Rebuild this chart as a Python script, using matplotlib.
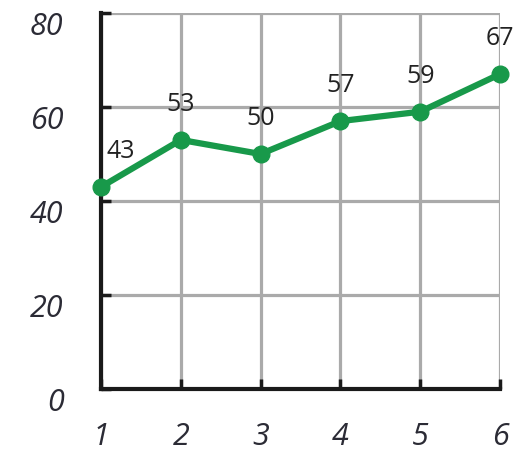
import matplotlib
matplotlib.use('Agg')
import matplotlib.pyplot as plt
import matplotlib.transforms as mtransforms

# Данные
x_vals = [1, 2, 3, 4, 5, 6]
y_vals = [43, 53, 50, 57, 59, 67]
y_ticks = [0, 20, 40, 60, 80]

fig = plt.figure(figsize=(5.27, 4.56), dpi=100)
ax = fig.add_axes([0.1917, 0.1447, 0.9488 - 0.1917, 0.9693 - 0.1447])

# Сетка
ax.set_xlim(1, 6)
ax.set_ylim(0, 80)
ax.set_xticks(x_vals)
ax.set_yticks(y_ticks)
ax.grid(True, color='#aaaaaa', linewidth=2.3, zorder=0)
ax.set_axisbelow(True)

# Оси: только левая и нижняя
for side in ['top', 'right']:
    ax.spines[side].set_visible(False)
for side in ['left', 'bottom']:
    ax.spines[side].set_linewidth(3)
    ax.spines[side].set_color('#1a1a1a')
    ax.spines[side].set_capstyle('projecting')

ax.tick_params(direction='in', length=7, width=2.5, color='#1a1a1a',
               labelsize=22, labelcolor='#2b2b35')
ax.tick_params(axis='y', pad=27)
ax.tick_params(axis='x', pad=23)

# Подписи оси Y чуть ниже линий сетки
shift = mtransforms.ScaledTranslation(0, -7 / 72, fig.dpi_scale_trans)
for lbl in ax.get_yticklabels():
    lbl.set_transform(lbl.get_transform() + shift)
for lbl in ax.get_xticklabels() + ax.get_yticklabels():
    lbl.set_fontstyle('italic')
    lbl.set_family('Open Sans')

# Линия с маркерами
ax.plot(x_vals, y_vals, color='#18994a', linewidth=4.5, marker='o',
        markersize=12, clip_on=False, zorder=5)

# Подписи значений
for x, y in zip(x_vals, y_vals):
    dx = 14 if x == 1 else 0
    ax.annotate(str(y), (x, y), xytext=(dx, 26), textcoords='offset points',
                ha='center', va='center', fontsize=18, color='#222222',
                family='Open Sans', zorder=6)

fig.savefig('out.png', dpi=100)
